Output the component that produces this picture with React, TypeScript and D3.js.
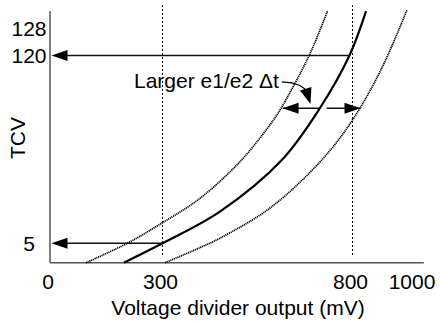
import React from "react";
import * as d3 from "d3";

// tick labels
const xTicks = [0, 300, 800, 1000];
const yTicks = [5, 120, 128];

// curves, [mV, TCV]
const nominal: [number, number][] = [
  [197, 0], [300, 5], [451, 24.4], [614, 56], [714, 87.7], [792, 120], [844, 133.4],
];
const upperBand: [number, number][] = [
  [96, 0], [206, 5], [300, 17.6], [399, 32.6], [508, 56], [592, 80.5],
  [612, 87.7], [686, 120], [734, 133.4],
];
const lowerBand: [number, number][] = [
  [307, 0], [399, 3.9], [451, 8.1], [583, 26.6], [719, 56], [800, 80.5],
  [895, 112.2], [977, 133.7],
];

// guides and annotations
const guideMv = [300, 800];
const readings = [
  { mv: 792, tcv: 120 },
  { mv: 300, tcv: 5 },
];
const deltaTcv = 87.7;
const deltaLeft = [714, 616]; // from, to
const deltaRight = [732, 826];
const pointer = { from: [614, 103.8], ctrl: [672, 103.2], to: [689.5, 90.3] };

const FONT = "Liberation Sans, Arial, Helvetica, sans-serif";

const arrowHead = (tip: number[], from: number[], len = 16, half = 5.5) => {
  const dx = tip[0] - from[0];
  const dy = tip[1] - from[1];
  const d = Math.hypot(dx, dy) || 1;
  const ux = dx / d;
  const uy = dy / d;
  const bx = tip[0] - ux * len;
  const by = tip[1] - uy * len;
  return `M${tip[0]},${tip[1]}L${bx - uy * half},${by + ux * half}L${bx + uy * half},${by - ux * half}Z`;
};

const App = () => {
  const W = 440;
  const H = 322;

  //polylinear scales, the picture is a sketch
  const x = d3.scaleLinear().domain([0, 300, 800, 1000]).range([50, 162.5, 352.5, 414]);
  const y = d3.scaleLinear().domain([0, 5, 120, 128]).range([262.7, 243.3, 55.5, 29]);

  const line = d3
    .line<[number, number]>()
    .x((d) => x(d[0]))
    .y((d) => y(d[1]))
    .curve(d3.curveCatmullRom.alpha(0.5));

  const x0 = x(0);
  const y0 = y(0);
  const yTop = y(133.4);
  const xEnd = x(1032);

  const p0 = [x(pointer.from[0]), y(pointer.from[1])];
  const pc = [x(pointer.ctrl[0]), y(pointer.ctrl[1])];
  const p1 = [x(pointer.to[0]), y(pointer.to[1])];

  const yd = y(deltaTcv);

  return (
    <svg
      width={W}
      height={H}
      style={{ position: "absolute", left: 0, top: 0, background: "#fff" }}
      fontFamily={FONT}
    >
      {/* guides */}
      {guideMv.map((v) => (
        <line
          key={v}
          x1={x(v)}
          x2={x(v)}
          y1={y(2)}
          y2={y(135.2)}
          stroke="#000"
          strokeWidth={1}
          strokeDasharray="2 2"
        />
      ))}

      {/* axes */}
      <line x1={x0} x2={x0} y1={yTop} y2={y0} stroke="#555" strokeWidth={1.5} />
      <line x1={x0} x2={xEnd} y1={y0} y2={y0} stroke="#555" strokeWidth={1.5} />

      {/* curves */}
      <path d={line(upperBand) || ""} fill="none" stroke="#000" strokeWidth={1.7} strokeDasharray="1.2 0.7" />
      <path d={line(lowerBand) || ""} fill="none" stroke="#000" strokeWidth={1.7} strokeDasharray="1.2 0.7" />
      <path d={line(nominal) || ""} fill="none" stroke="#000" strokeWidth={2.2} />

      {/* readings back to the TCV axis */}
      {readings.map((r) => {
        const tip = [x0 + 1.5, y(r.tcv)];
        return (
          <g key={r.tcv}>
            <line x1={x(r.mv)} x2={tip[0] + 8} y1={y(r.tcv)} y2={y(r.tcv)} stroke="#111" strokeWidth={1.4} />
            <path d={arrowHead(tip, [x(r.mv), y(r.tcv)])} fill="#000" />
          </g>
        );
      })}

      {/* delta t arrows */}
      {[deltaLeft, deltaRight].map((a, i) => {
        const from = [x(a[0]), yd];
        const tip = [x(a[1]), yd];
        return (
          <g key={i}>
            <line x1={from[0]} x2={tip[0]} y1={yd} y2={yd} stroke="#111" strokeWidth={1.4} />
            <path d={arrowHead(tip, from)} fill="#000" />
          </g>
        );
      })}

      {/* pointer from label */}
      <path
        d={`M${p0[0]},${p0[1]}Q${pc[0]},${pc[1]} ${p1[0] - (p1[0] - pc[0]) * 0.5},${p1[1] - (p1[1] - pc[1]) * 0.5}`}
        fill="none"
        stroke="#000"
        strokeWidth={1.3}
      />
      <path d={arrowHead(p1, pc, 16, 6)} fill="#000" />

      <text x={134} y={88} fontSize={21}>
        Larger e1/e2 Δt
      </text>

      {/* tick labels */}
      {yTicks.map((t) => (
        <text key={t} x={29} y={y(t)} dy="0.35em" fontSize={21} textAnchor="middle">
          {t}
        </text>
      ))}
      {xTicks.map((t) => (
        <text key={t} x={x(t) - 2} y={289} fontSize={21} textAnchor="middle">
          {t}
        </text>
      ))}

      {/* axis titles */}
      <text x={238} y={315} fontSize={21} textAnchor="middle">
        Voltage divider output (mV)
      </text>
      <text transform="translate(25,138) rotate(-90)" fontSize={21} textAnchor="middle">
        TCV
      </text>
    </svg>
  );
};

export default App;
